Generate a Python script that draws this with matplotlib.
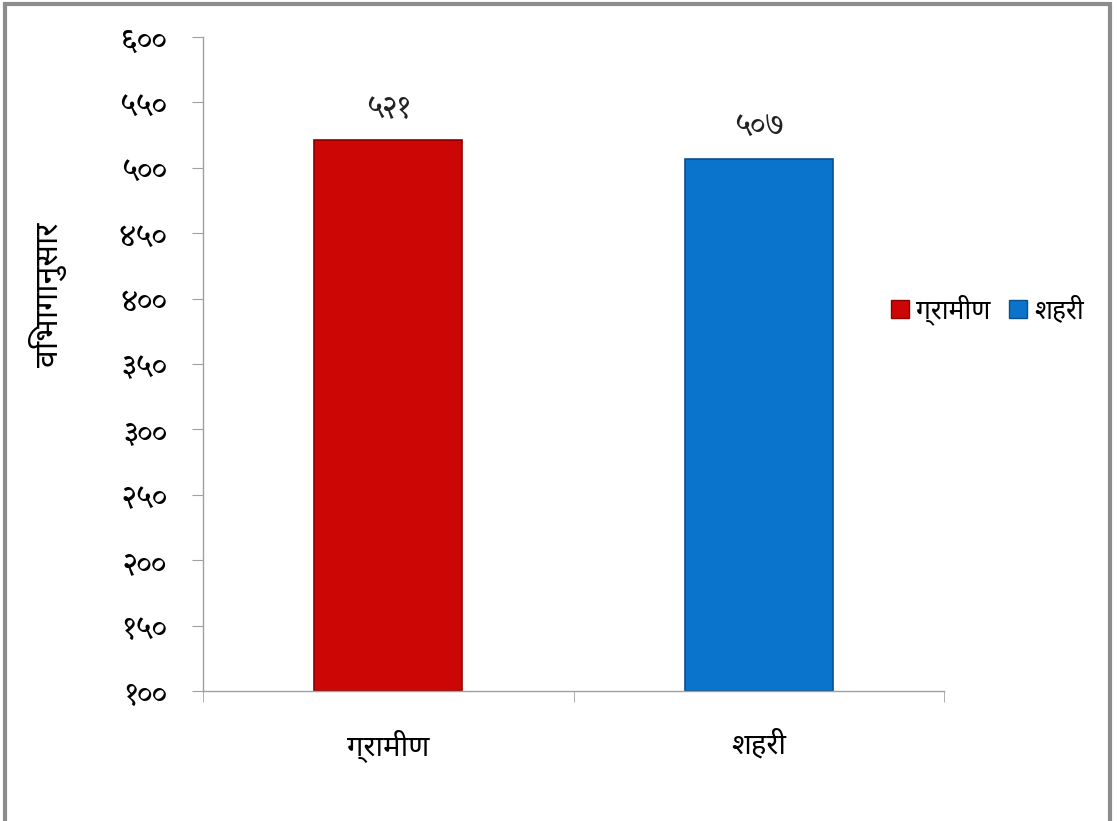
import matplotlib
matplotlib.use("Agg")
import matplotlib.pyplot as plt
from matplotlib.patches import Rectangle

# data
categories = ["ग्रामीण", "शहरी"]
values = [521, 507]
value_labels = ["५२१", "५०७"]
yticks = [100, 150, 200, 250, 300, 350, 400, 450, 500, 550, 600]
ytick_labels = ["१००", "१५०", "२००", "२५०", "३००", "३५०", "४००", "४५०", "५००", "५५०", "६००"]
colors = ["#CC0505", "#0A74CC"]
edge_colors = ["#8E0000", "#08508E"]
ylabel = "विभागानुसार"

sans = ["Noto Sans Devanagari", "Mukta", "DejaVu Sans"]
serif = ["Noto Serif Devanagari", "Martel", "Noto Sans Devanagari", "DejaVu Sans"]

fig = plt.figure(figsize=(11.18, 8.21), dpi=100)
ax = fig.add_axes([203 / 1118, 1 - 691 / 821, 741 / 1118, 654 / 821])

x = range(len(categories))
bars = ax.bar(x, [v - 100 for v in values], bottom=100, width=0.4,
              color=colors, edgecolor=edge_colors, linewidth=1.2, zorder=2)

# value labels above bars
for xi, v, lab in zip(x, values, value_labels):
    ax.text(xi, v + 12, lab, ha="center", va="bottom", fontsize=23,
            family=serif, color="#222222")

ax.set_xlim(-0.5, 1.5)
ax.set_ylim(100, 600)
ax.set_yticks(yticks)
ax.set_yticklabels(ytick_labels, family=serif, fontsize=23)
ax.set_xticks(list(x))
ax.set_xticklabels(categories, family=sans, fontsize=21)
ax.tick_params(axis="x", length=0, pad=28)
ax.tick_params(axis="y", length=8, color="#A0A0A0", pad=18)
# category separators on x axis
ax.set_xticks([-0.5, 0.5, 1.5], minor=True)
ax.tick_params(axis="x", which="minor", length=8, color="#A0A0A0")

for s in ["top", "right"]:
    ax.spines[s].set_visible(False)
for s in ["left", "bottom"]:
    ax.spines[s].set_color("#A0A0A0")
    ax.spines[s].set_linewidth(1.0)

fig.text(48 / 1118, 1 - 295 / 821, ylabel, rotation=90, ha="center", va="center",
         family=sans, fontsize=23)

handles = [Rectangle((0, 0), 1, 1, facecolor=c, edgecolor=e) for c, e in zip(colors, edge_colors)]
fig.legend(handles, categories, loc="center left", bbox_to_anchor=(891 / 1118, 1 - 310 / 821),
           ncol=2, frameon=False, handlelength=0.7, handleheight=0.7, handletextpad=0.25,
           columnspacing=0.7, borderpad=0, borderaxespad=0,
           prop={"family": sans, "size": 19})

# outer border
fig.add_artist(Rectangle((5 / 1118, -0.01), 1105 / 1118, 1 - 4 / 821 + 0.01,
                         transform=fig.transFigure, fill=False, edgecolor="#8C8C8C", linewidth=3))

fig.savefig("out.png", dpi=100)
